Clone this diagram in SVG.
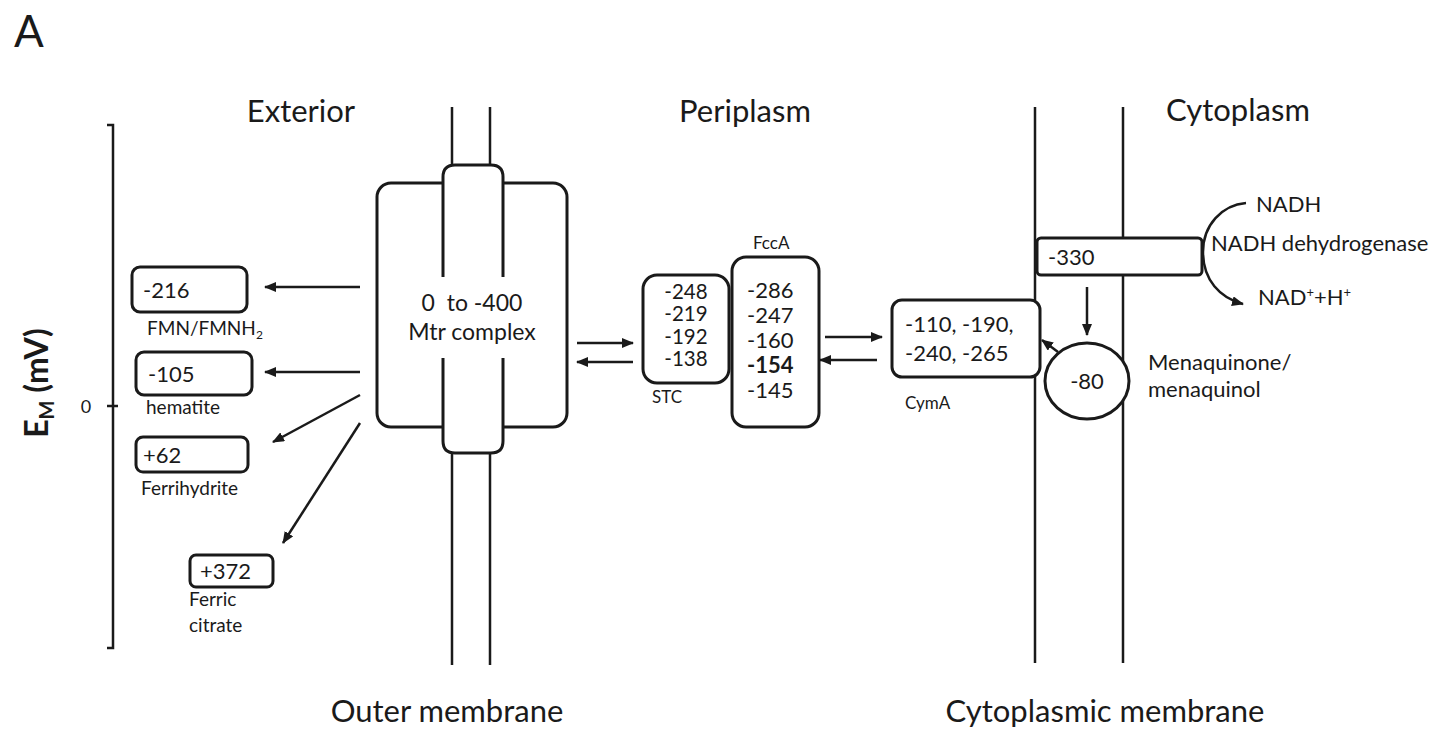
<svg xmlns="http://www.w3.org/2000/svg" width="1444" height="734" viewBox="0 0 1444 734">
<defs>
<marker id="ah" viewBox="0 0 12 10" refX="11" refY="5" markerWidth="12" markerHeight="10" markerUnits="userSpaceOnUse" orient="auto"><path d="M0,0 L12,5 L0,10 z" fill="#1a1a1a"/></marker>
</defs>
<style>
text{font-family:Lato,"Open Sans","Liberation Sans",sans-serif;fill:#1a1a1a}
.hdr{font-size:31px}
.num{font-size:22px}
.stc{font-size:20.5px}
.lbl{font-size:17px}
.sub{font-size:19px}
.mid{font-size:22px}
.box{fill:#fff;stroke:#1a1a1a;stroke-width:3}
.mem{stroke:#1a1a1a;stroke-width:2.5;fill:none}
.arr{stroke:#1a1a1a;stroke-width:2.5;fill:none;marker-end:url(#ah)}
</style>
<rect width="1444" height="734" fill="#fff"/>
<text x="14" y="47" style="font-size:44px">A</text>

<g id="axis">
<path class="mem" d="M107,125 H113 V648 H107 M107,406 H118"/>
<text x="86" y="413" text-anchor="middle" style="font-size:18px">0</text>
<text transform="translate(48,383) rotate(-90)" text-anchor="middle" style="font-size:32px;font-weight:bold">E<tspan style="font-size:20px" dy="6">M</tspan><tspan dy="-6"> (mV)</tspan></text>
</g>

<g id="headers">
<text class="hdr" x="301" y="122" text-anchor="middle">Exterior</text>
<text class="hdr" x="745" y="122" text-anchor="middle">Periplasm</text>
<text class="hdr" x="1238" y="121" text-anchor="middle">Cytoplasm</text>
<text class="hdr" x="447" y="722" text-anchor="middle">Outer membrane</text>
<text class="hdr" x="1105" y="722" text-anchor="middle">Cytoplasmic membrane</text>
</g>

<g id="outer-membrane">
<path class="mem" d="M452,107 V170 M490,107 V170 M452,450 V665 M490,450 V665"/>
</g>
<g id="cytoplasmic-membrane">
<path class="mem" d="M1035,107 V663 M1123,107 V663"/>
</g>

<g id="mtr-complex">
<rect class="box" x="377" y="183" width="190" height="244" rx="14"/>
<rect x="443" y="165" width="60" height="288" rx="12" fill="#fff"/>
<path class="mem" style="stroke-width:3" d="M443,277 V177 Q443,165 455,165 H491 Q503,165 503,177 V277 M503,358 V441 Q503,453 491,453 H455 Q443,453 443,441 V358"/>
<text x="472" y="311" text-anchor="middle" style="font-size:23px;white-space:pre" xml:space="preserve">0  to -400</text>
<text x="472" y="340" text-anchor="middle" style="font-size:23px">Mtr complex</text>
</g>

<g id="fmn">
<rect class="box" x="132" y="267" width="115" height="45" rx="8"/>
<text class="num" x="143" y="298">-216</text>
<text class="sub" x="147" y="335">FMN/FMNH<tspan style="font-size:12px" dy="4">2</tspan></text>
</g>
<g id="hematite">
<rect class="box" x="136" y="352" width="116" height="43" rx="8"/>
<text class="num" x="148" y="382">-105</text>
<text class="sub" x="146" y="414">hematite</text>
</g>
<g id="ferrihydrite">
<rect class="box" x="136" y="437" width="112" height="35" rx="7"/>
<text class="num" x="143" y="463">+62</text>
<text class="sub" x="141" y="495">Ferrihydrite</text>
</g>
<g id="ferric-citrate">
<rect class="box" x="190" y="555" width="83" height="32" rx="6"/>
<text class="num" x="200" y="579">+372</text>
<text class="sub" x="189" y="606">Ferric</text>
<text class="sub" x="189" y="632">citrate</text>
</g>

<g id="stc">
<rect class="box" x="643" y="275" width="86" height="108" rx="14"/>
<text class="stc" x="686" y="299" text-anchor="middle">-248</text>
<text class="stc" x="686" y="321" text-anchor="middle">-219</text>
<text class="stc" x="686" y="344" text-anchor="middle">-192</text>
<text class="stc" x="686" y="366" text-anchor="middle">-138</text>
<text class="lbl" x="652" y="403">STC</text>
</g>

<g id="fcca">
<rect class="box" x="732" y="257" width="87" height="170" rx="14"/>
<text class="num" x="747" y="298">-286</text>
<text class="num" x="747" y="323">-247</text>
<text class="num" x="747" y="348">-160</text>
<text class="num" x="747" y="373" style="font-weight:bold">-154</text>
<text class="num" x="747" y="398">-145</text>
<text class="lbl" x="753" y="249">FccA</text>
</g>

<g id="cyma">
<rect class="box" x="892" y="300" width="148" height="77" rx="10"/>
<text class="num" x="905" y="332">-110, -190,</text>
<text class="num" x="905" y="361">-240, -265</text>
<text class="lbl" x="905" y="409">CymA</text>
</g>

<g id="nadh-dehydrogenase">
<rect class="box" x="1037" y="238" width="165" height="37" rx="4"/>
<text class="num" x="1048" y="265">-330</text>
<text class="mid" x="1256" y="212">NADH</text>
<text class="mid" x="1211" y="251">NADH dehydrogenase</text>
<text class="mid" x="1258" y="305">NAD<tspan style="font-size:13px" dy="-8">+</tspan><tspan dy="8">+H</tspan><tspan style="font-size:13px" dy="-8">+</tspan></text>
</g>

<g id="menaquinone">
<ellipse class="box" cx="1087" cy="381" rx="42" ry="38"/>
<text class="num" x="1087" y="389" text-anchor="middle">-80</text>
<text class="mid" x="1148" y="370">Menaquinone/</text>
<text class="mid" x="1148" y="397">menaquinol</text>
</g>

<g id="connectors">
<path class="arr" d="M360,287 H265"/>
<path class="arr" d="M360,372 H265"/>
<path class="arr" d="M360,395 L273,442"/>
<path class="arr" d="M360,423 L283,543"/>
<path class="arr" d="M577,343 H633"/>
<path class="arr" d="M633,362 H577"/>
<path class="arr" d="M825,337 H882"/>
<path class="arr" d="M877,360 H820"/>
<path class="arr" d="M1087,287 V335"/>
<path class="arr" d="M1058,352 L1042,340"/>
<path class="arr" d="M1246,203 C1222,205 1203,225 1203,252 C1203,280 1220,298 1243,304"/>
</g>
</svg>
